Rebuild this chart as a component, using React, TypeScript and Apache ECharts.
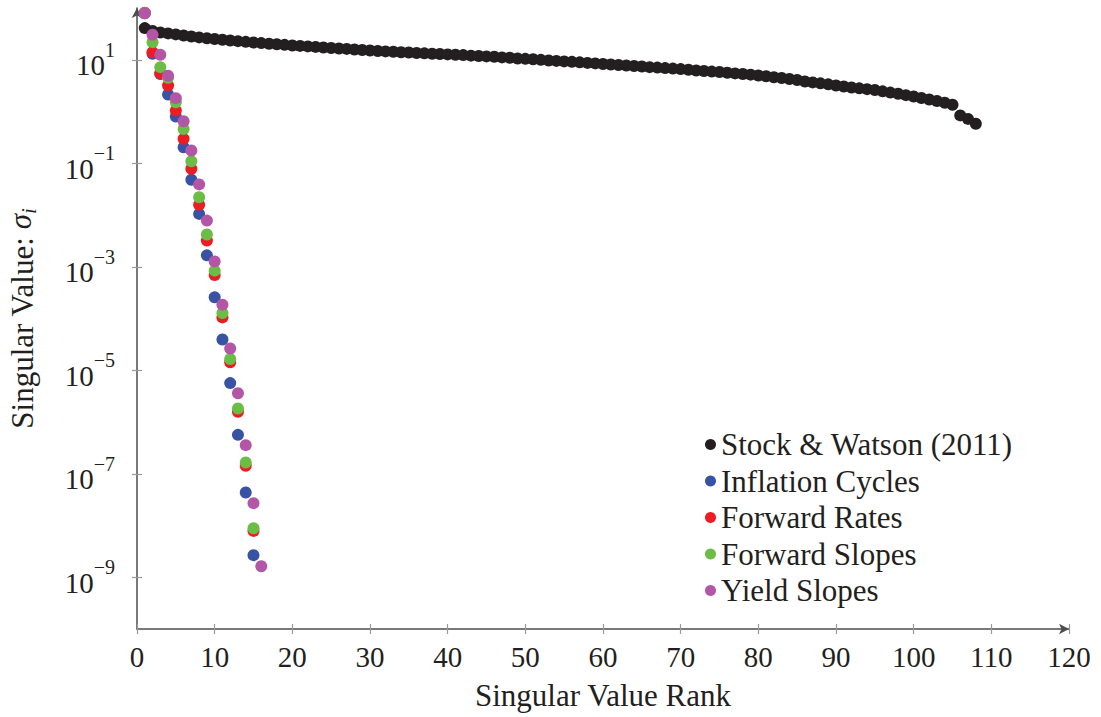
import React, { useEffect, useRef } from "react";
import * as echarts from "echarts";

const FONT = "Liberation Serif";
const TEXT = "#231f20";

const seriesNames = [
  "Stock & Watson (2011)",
  "Inflation Cycles",
  "Forward Rates",
  "Forward Slopes",
  "Yield Slopes",
];
const seriesColors = ["#231f20", "#3953a4", "#ed1c24", "#6bbd45", "#b456a6"];

// singular values, rank = index + 1
const stockWatson = [
  40.9, 36.1, 33.7, 32.3, 30.9, 29.5, 28.1, 27.0, 26.0, 25.2,
  24.4, 23.6, 22.9, 22.2, 21.6, 21.0, 20.4, 19.9, 19.4, 18.9,
  18.5, 18.1, 17.7, 17.3, 16.9, 16.5, 16.2, 15.8, 15.4, 15.1,
  14.8, 14.5, 14.3, 14.0, 13.8, 13.5, 13.3, 13.1, 12.9, 12.7,
  12.5, 12.3, 12.0, 11.8, 11.6, 11.4, 11.1, 10.9, 10.6, 10.4,
  10.2, 9.95, 9.7, 9.5, 9.3, 9.1, 8.9, 8.7, 8.5, 8.3,
  8.1, 7.9, 7.75, 7.55, 7.4, 7.2, 7.05, 6.9, 6.75, 6.6,
  6.4, 6.2, 6.05, 5.9, 5.8, 5.6, 5.45, 5.3, 5.15, 4.97,
  4.8, 4.6, 4.45, 4.25, 4.06, 3.8, 3.65, 3.5, 3.35, 3.18,
  3.05, 2.9, 2.8, 2.7, 2.61, 2.45, 2.32, 2.2, 2.07, 1.95,
  1.82, 1.71, 1.6, 1.48, 1.35, 0.84, 0.72, 0.58,
];
const inflationCycles = [
  79, 13, 5.3, 2.13, 0.8, 0.204, 0.048, 0.0105, 0.00166, 0.000256,
  3.94e-5, 5.65e-6, 5.65e-7, 4.33e-8, 2.67e-9,
];
const forwardRates = [
  81, 14.0, 5.5, 3.18, 1.05, 0.296, 0.078, 0.0157, 0.0032, 0.00069,
  1.05e-4, 1.42e-5, 1.57e-6, 1.42e-7, 7.87e-9,
];
const forwardSlopes = [
  80, 21.9, 7.2, 4.5, 1.51, 0.46, 0.109, 0.022, 0.0042, 0.00084,
  1.28e-4, 1.65e-5, 1.82e-6, 1.65e-7, 8.87e-9,
];
const yieldSlopes = [
  79, 30.5, 12.5, 4.9, 1.81, 0.65, 0.176, 0.039, 0.0078, 0.00127,
  1.85e-4, 2.64e-5, 3.6e-6, 3.57e-7, 2.7e-8, 1.63e-9,
];

const yTickExponents = [-9, -7, -5, -3, -1, 1];

const allSeries = [stockWatson, inflationCycles, forwardRates, forwardSlopes, yieldSlopes];

const txt = (size: number, extra: object = {}) => ({
  fontSize: size,
  fontFamily: FONT,
  fontWeight: "normal",
  fontStyle: "normal",
  color: TEXT,
  ...extra,
});

export default function App() {
  const ref = useRef<HTMLDivElement>(null);
  useEffect(() => {
    const chart = echarts.init(ref.current!, undefined, { renderer: "svg" });
    const axisLineStyle = { color: "#4d4d4d", width: 1.5 };
    const tickStyle = { color: "#9a9a9a", width: 1.2 };
    chart.setOption({
      animation: false,
      backgroundColor: "#ffffff",
      textStyle: { fontFamily: FONT, fontWeight: "normal", fontStyle: "normal" },
      grid: {
        left: 137,
        right: 32,
        top: 8,
        bottom: 88,
        containLabel: false,
        outerBoundsMode: "none",
      },
      legend: {
        orient: "vertical",
        left: 700,
        top: 424,
        icon: "circle",
        itemWidth: 11,
        itemHeight: 11,
        itemGap: 5.5,
        selectedMode: false,
        textStyle: txt(31, { lineHeight: 30 }),
        data: seriesNames,
      },
      xAxis: [
        {
          type: "value",
          min: 0,
          max: 120,
          interval: 10,
          position: "bottom",
          axisLine: {
            show: true,
            onZero: false,
            symbol: ["none", "arrow"],
            symbolSize: [8, 10],
            lineStyle: axisLineStyle,
          },
          axisTick: { show: true, inside: false, length: 5, lineStyle: tickStyle },
          axisLabel: { margin: 13, ...txt(29) },
          splitLine: { show: false },
          name: "Singular Value Rank",
          nameLocation: "middle",
          nameGap: 51,
          nameMoveOverlap: false,
          nameTextStyle: txt(31),
        },
        {
          type: "value",
          min: 0,
          max: 120,
          interval: 10,
          position: "bottom",
          axisLine: { show: false, onZero: false },
          axisTick: { show: true, inside: true, length: 5, lineStyle: tickStyle },
          axisLabel: { show: false },
          splitLine: { show: false },
        },
      ],
      yAxis: [
        {
          type: "log",
          logBase: 10,
          min: 1e-10,
          max: 100,
          position: "left",
          axisLine: {
            show: true,
            onZero: false,
            symbol: ["none", "arrow"],
            symbolSize: [8, 10],
            lineStyle: axisLineStyle,
          },
          axisTick: { show: false },
          minorTick: { show: false },
          axisLabel: { show: false },
          splitLine: { show: false },
          minorSplitLine: { show: false },
          name: "Singular Value: {sig|σ}{sub|i}",
          nameLocation: "middle",
          nameRotate: 90,
          nameGap: 98,
          nameMoveOverlap: false,
          nameTextStyle: {
            ...txt(31),
            rich: {
              sig: txt(31, { fontStyle: "italic", lineHeight: 34, verticalAlign: "top" }),
              sub: txt(21, { fontStyle: "italic", lineHeight: 20, verticalAlign: "bottom" }),
            },
          },
        },
        {
          type: "value",
          min: -10,
          max: 2,
          position: "left",
          axisLine: { show: false, onZero: false },
          axisTick: { show: true, inside: false, length: 5, lineStyle: tickStyle, customValues: yTickExponents },
          axisLabel: {
            customValues: yTickExponents,
            margin: 22,
            ...txt(29),
            formatter: (v: number) => `{b|10}{s|${v < 0 ? "\u2212" + -v : v}}`,
            rich: {
              b: txt(29, { lineHeight: 40, verticalAlign: "bottom" }),
              s: txt(20, { lineHeight: 18, verticalAlign: "top" }),
            },
          },
          splitLine: { show: false },
        },
        {
          type: "value",
          min: -10,
          max: 2,
          position: "left",
          axisLine: { show: false, onZero: false },
          axisTick: { show: true, inside: true, length: 5, lineStyle: tickStyle, customValues: yTickExponents },
          axisLabel: { show: false },
          splitLine: { show: false },
        },
      ],
      series: allSeries.map((vals, i) => ({
        type: "scatter",
        name: seriesNames[i],
        xAxisIndex: 0,
        yAxisIndex: 0,
        symbol: "circle",
        symbolSize: 12,
        itemStyle: { color: seriesColors[i], opacity: 1 },
        emphasis: { disabled: true },
        data: vals.map((v, k) => [k + 1, v]),
      })),
    });
    return () => chart.dispose();
  }, []);
  return (
    <div
      ref={ref}
      style={{ position: "fixed", left: 0, top: 0, width: 1101, height: 717, background: "#fff" }}
    />
  );
}
